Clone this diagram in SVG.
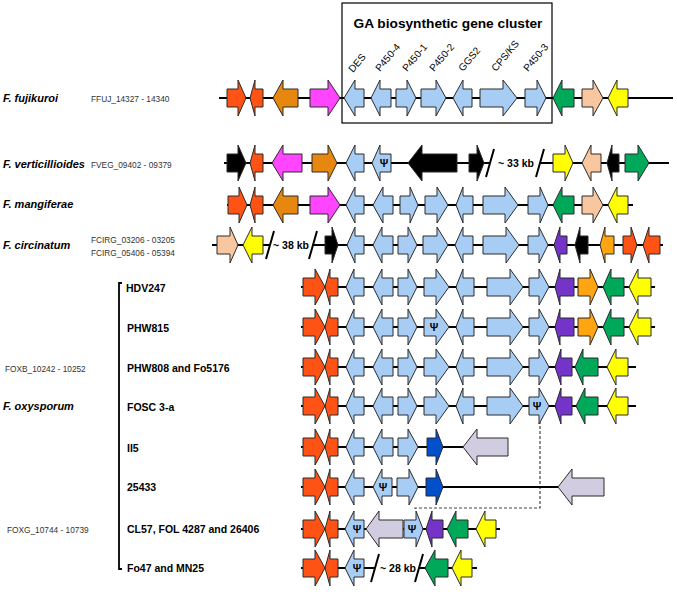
<svg xmlns="http://www.w3.org/2000/svg" width="677" height="592" viewBox="0 0 677 592">
<style>
polygon{stroke:#2a2a2a;stroke-width:1;stroke-linejoin:miter}
.bb{stroke:#000;stroke-width:2;fill:none}
.sl{stroke:#000;stroke-width:2;fill:none}
.or{fill:#FF5315}.og{fill:#E8870F}.ol{fill:#FFA511}.mg{fill:#FF45FF}.lb{fill:#A8CDF5}.gr{fill:#00A85A}.pe{fill:#F8C7A0}.ye{fill:#FFFF00}.pu{fill:#7434CA}.db{fill:#0050CC}.li{fill:#D1CCDF}.bk{fill:#000}
text{font-family:"Liberation Sans",Arial,sans-serif;fill:#000}
.sp{font-size:11px;font-weight:bold;font-style:italic}
.loc{font-size:8.3px;fill:#333}
.st{font-size:10.5px;font-weight:bold}
.kb{font-size:10.5px;font-weight:bold}
.gn{font-size:10px}
.psi{font-size:10.5px;font-weight:bold;text-anchor:middle}
</style>
<rect x="342" y="3" width="210" height="120" fill="none" stroke="#000" stroke-width="1.2"/>
<text x="448" y="28" text-anchor="middle" style="font-size:13.7px;font-weight:bold">GA biosynthetic gene cluster</text>
<g id="gene-labels">
<text class="gn" transform="translate(353,73) rotate(-50)">DES</text>
<text class="gn" transform="translate(380,72) rotate(-50)">P450-4</text>
<text class="gn" transform="translate(407,72) rotate(-50)">P450-1</text>
<text class="gn" transform="translate(434,72) rotate(-50)">P450-2</text>
<text class="gn" transform="translate(463,72) rotate(-50)">GGS2</text>
<text class="gn" transform="translate(496,72) rotate(-50)">CPS/KS</text>
<text class="gn" transform="translate(528,72) rotate(-50)">P450-3</text>
</g>
<g id="labels">
<text class="sp" x="3" y="102">F. fujikuroi</text>
<text class="loc" x="91" y="102">FFUJ_14327 - 14340</text>
<text class="sp" x="3" y="168">F. verticillioides</text>
<text class="loc" x="91" y="168">FVEG_09402 - 09379</text>
<text class="sp" x="3" y="208">F. mangiferae</text>
<text class="sp" x="3" y="249">F. circinatum</text>
<text class="loc" x="91" y="243">FCIRG_03206 - 03205</text>
<text class="loc" x="91" y="256">FCIRG_05406 - 05394</text>
<text class="sp" x="3" y="410">F. oxysporum</text>
<text class="loc" x="5" y="372">FOXB_10242 - 10252</text>
<text class="loc" x="7" y="533">FOXG_10744 - 10739</text>
<path d="M122,283 H119 V569 H122" fill="none" stroke="#000" stroke-width="1.8"/>
<text class="st" x="126" y="292">HDV247</text>
<text class="st" x="127" y="332">PHW815</text>
<text class="st" x="127" y="372">PHW808 and Fo5176</text>
<text class="st" x="127" y="411">FOSC 3-a</text>
<text class="st" x="127" y="452">II5</text>
<text class="st" x="127" y="491">25433</text>
<text class="st" x="127" y="533">CL57, FOL 4287 and 26406</text>
<text class="st" x="127" y="572">Fo47 and MN25</text>
</g>
<g id="connectors">
<path d="M540,416 V508 H415 V511" fill="none" stroke="#444" stroke-width="1.2" stroke-dasharray="3,2"/>
</g>
<g id="row-fujikuroi" transform="translate(0,98)">
<path class="bb" d="M219,0 H673"/>
<polygon class="or" points="227,-9 238,-9 238,-18 246,0 238,18 238,9 227,9"/>
<polygon class="or" points="250,0 255,-18 255,-9 263,-9 263,9 255,9 255,18"/>
<polygon class="og" points="273,0 283,-18 283,-9 298,-9 298,9 283,9 283,18"/>
<polygon class="mg" points="310,-9 328,-9 328,-18 340,0 328,18 328,9 310,9"/>
<polygon class="lb" points="344,0 355,-18 355,-9 364,-9 364,9 355,9 355,18"/>
<polygon class="lb" points="371,0 380,-18 380,-9 391,-9 391,9 380,9 380,18"/>
<polygon class="lb" points="396,-9 407,-9 407,-18 416,0 407,18 407,9 396,9"/>
<polygon class="lb" points="421,-9 436,-9 436,-18 446,0 436,18 436,9 421,9"/>
<polygon class="lb" points="453,0 463,-18 463,-9 472,-9 472,9 463,9 463,18"/>
<polygon class="lb" points="480,-9 503,-9 503,-18 517,0 503,18 503,9 480,9"/>
<polygon class="lb" points="525,-9 537,-9 537,-18 546,0 537,18 537,9 525,9"/>
<polygon class="gr" points="553,0 562,-18 562,-9 574,-9 574,9 562,9 562,18"/>
<polygon class="pe" points="582,-9 593,-9 593,-18 603,0 593,18 593,9 582,9"/>
<polygon class="ye" points="608,0 617,-18 617,-9 628,-9 628,9 617,9 617,18"/>
</g>
<g id="row-verticillioides" transform="translate(0,163)">
<path class="bb" d="M224,0 H490 M540,0 H669"/>
<polygon class="bk" points="227,-9 238,-9 238,-18 246,0 238,18 238,9 227,9"/>
<polygon class="or" points="250,0 255,-18 255,-9 263,-9 263,9 255,9 255,18"/>
<polygon class="mg" points="272,0 283,-18 283,-9 302,-9 302,9 283,9 283,18"/>
<polygon class="og" points="312,-9 328,-9 328,-18 337,0 328,18 328,9 312,9"/>
<polygon class="lb" points="346,0 355,-18 355,-9 364,-9 364,9 355,9 355,18"/>
<polygon class="lb" points="372,0 380,-18 380,-9 391,-9 391,9 380,9 380,18"/>
<text class="psi" x="384" y="4">Ψ</text>
<polygon class="bk" points="408,0 422,-18 422,-9 457,-9 457,9 422,9 422,18"/>
<polygon class="bk" points="469,-9 477,-9 477,-18 484,0 477,18 477,9 469,9"/>
<path class="sl" d="M486,14 L494,-14 M536,14 L544,-14"/>
<text class="kb" x="498" y="4">~ 33 kb</text>
<polygon class="ye" points="553,-9 565,-9 565,-18 573,0 565,18 565,9 553,9"/>
<polygon class="pe" points="582,0 591,-18 591,-9 601,-9 601,9 591,9 591,18"/>
<polygon class="bk" points="607,0 612,-18 612,-9 619,-9 619,9 612,9 612,18"/>
<polygon class="gr" points="625,-9 638,-9 638,-18 649,0 638,18 638,9 625,9"/>
</g>
<g id="row-mangiferae" transform="translate(0,205)">
<path class="bb" d="M227,0 H633"/>
<polygon class="or" points="228,-9 239,-9 239,-18 247,0 239,18 239,9 228,9"/>
<polygon class="or" points="250,0 255,-18 255,-9 263,-9 263,9 255,9 255,18"/>
<polygon class="og" points="273,0 283,-18 283,-9 298,-9 298,9 283,9 283,18"/>
<polygon class="mg" points="310,-9 328,-9 328,-18 340,0 328,18 328,9 310,9"/>
<polygon class="lb" points="346,0 355,-18 355,-9 364,-9 364,9 355,9 355,18"/>
<polygon class="lb" points="373,0 383,-18 383,-9 393,-9 393,9 383,9 383,18"/>
<polygon class="lb" points="400,-9 410,-9 410,-18 418,0 410,18 410,9 400,9"/>
<polygon class="lb" points="425,-9 437,-9 437,-18 448,0 437,18 437,9 425,9"/>
<polygon class="lb" points="456,0 463,-18 463,-9 473,-9 473,9 463,9 463,18"/>
<polygon class="lb" points="483,-9 505,-9 505,-18 518,0 505,18 505,9 483,9"/>
<polygon class="lb" points="528,-9 540,-9 540,-18 548,0 540,18 540,9 528,9"/>
<polygon class="gr" points="553,0 562,-18 562,-9 574,-9 574,9 562,9 562,18"/>
<polygon class="pe" points="582,-9 593,-9 593,-18 603,0 593,18 593,9 582,9"/>
<polygon class="ye" points="608,0 617,-18 617,-9 628,-9 628,9 617,9 617,18"/>
</g>
<g id="row-circinatum" transform="translate(0,245)">
<path class="bb" d="M212,0 H270 M313,0 H663"/>
<polygon class="pe" points="217,-9 230,-9 230,-18 238,0 230,18 230,9 217,9"/>
<polygon class="ye" points="243,0 252,-18 252,-9 263,-9 263,9 252,9 252,18"/>
<path class="sl" d="M266,14 L274,-14 M309,14 L317,-14"/>
<text class="kb" x="273" y="4">~ 38 kb</text>
<polygon class="bk" points="325,-9 332,-9 332,-18 338,0 332,18 332,9 325,9"/>
<polygon class="lb" points="347,0 355,-18 355,-9 364,-9 364,9 355,9 355,18"/>
<polygon class="lb" points="373,0 382,-18 382,-9 393,-9 393,9 382,9 382,18"/>
<polygon class="lb" points="398,-9 408,-9 408,-18 417,0 408,18 408,9 398,9"/>
<polygon class="lb" points="423,-9 437,-9 437,-18 448,0 437,18 437,9 423,9"/>
<polygon class="lb" points="455,0 463,-18 463,-9 473,-9 473,9 463,9 463,18"/>
<polygon class="lb" points="483,-9 506,-9 506,-18 519,0 506,18 506,9 483,9"/>
<polygon class="lb" points="528,-9 539,-9 539,-18 548,0 539,18 539,9 528,9"/>
<polygon class="pu" points="554,0 560,-18 560,-9 567,-9 567,9 560,9 560,18"/>
<polygon class="bk" points="575,0 580,-18 580,-9 588,-9 588,9 580,9 580,18"/>
<polygon class="ol" points="600,0 605,-18 605,-9 614,-9 614,9 605,9 605,18"/>
<polygon class="or" points="623,-9 631,-9 631,-18 637,0 631,18 631,9 623,9"/>
<polygon class="or" points="643,0 649,-18 649,-9 660,-9 660,9 649,9 649,18"/>
</g>
<g id="row-HDV247" transform="translate(0,287)">
<path class="bb" d="M301,0 H655"/>
<polygon class="or" points="303,-9 315,-9 315,-18 325,0 315,18 315,9 303,9"/>
<polygon class="or" points="325,0 330,-18 330,-9 338,-9 338,9 330,9 330,18"/>
<polygon class="lb" points="346,0 354,-18 354,-9 364,-9 364,9 354,9 354,18"/>
<polygon class="lb" points="373,0 382,-18 382,-9 393,-9 393,9 382,9 382,18"/>
<polygon class="lb" points="398,-9 408,-9 408,-18 417,0 408,18 408,9 398,9"/>
<polygon class="lb" points="424,-9 436,-9 436,-18 449,0 436,18 436,9 424,9"/>
<polygon class="lb" points="456,0 463,-18 463,-9 474,-9 474,9 463,9 463,18"/>
<polygon class="lb" points="487,-9 510,-9 510,-18 523,0 510,18 510,9 487,9"/>
<polygon class="lb" points="529,-9 539,-9 539,-18 549,0 539,18 539,9 529,9"/>
<polygon class="pu" points="555,0 560,-18 560,-9 574,-9 574,9 560,9 560,18"/>
<polygon class="ol" points="578,-9 590,-9 590,-18 598,0 590,18 590,9 578,9"/>
<polygon class="gr" points="603,0 611,-18 611,-9 624,-9 624,9 611,9 611,18"/>
<polygon class="ye" points="629,0 638,-18 638,-9 651,-9 651,9 638,9 638,18"/>
</g>
<g id="row-PHW815" transform="translate(0,327)">
<path class="bb" d="M301,0 H655"/>
<polygon class="or" points="303,-9 315,-9 315,-18 325,0 315,18 315,9 303,9"/>
<polygon class="or" points="325,0 330,-18 330,-9 338,-9 338,9 330,9 330,18"/>
<polygon class="lb" points="346,0 354,-18 354,-9 364,-9 364,9 354,9 354,18"/>
<polygon class="lb" points="373,0 382,-18 382,-9 393,-9 393,9 382,9 382,18"/>
<polygon class="lb" points="398,-9 408,-9 408,-18 417,0 408,18 408,9 398,9"/>
<polygon class="lb" points="424,-9 436,-9 436,-18 449,0 436,18 436,9 424,9"/>
<text class="psi" x="434" y="4">Ψ</text>
<polygon class="lb" points="456,0 463,-18 463,-9 474,-9 474,9 463,9 463,18"/>
<polygon class="lb" points="487,-9 510,-9 510,-18 523,0 510,18 510,9 487,9"/>
<polygon class="lb" points="529,-9 539,-9 539,-18 549,0 539,18 539,9 529,9"/>
<polygon class="pu" points="555,0 560,-18 560,-9 574,-9 574,9 560,9 560,18"/>
<polygon class="ol" points="578,-9 590,-9 590,-18 598,0 590,18 590,9 578,9"/>
<polygon class="gr" points="603,0 611,-18 611,-9 624,-9 624,9 611,9 611,18"/>
<polygon class="ye" points="629,0 638,-18 638,-9 651,-9 651,9 638,9 638,18"/>
</g>
<g id="row-PHW808" transform="translate(0,367)">
<path class="bb" d="M301,0 H636"/>
<polygon class="or" points="303,-9 315,-9 315,-18 325,0 315,18 315,9 303,9"/>
<polygon class="or" points="325,0 330,-18 330,-9 338,-9 338,9 330,9 330,18"/>
<polygon class="lb" points="346,0 354,-18 354,-9 364,-9 364,9 354,9 354,18"/>
<polygon class="lb" points="373,0 382,-18 382,-9 393,-9 393,9 382,9 382,18"/>
<polygon class="lb" points="398,-9 408,-9 408,-18 417,0 408,18 408,9 398,9"/>
<polygon class="lb" points="424,-9 436,-9 436,-18 449,0 436,18 436,9 424,9"/>
<polygon class="lb" points="456,0 463,-18 463,-9 474,-9 474,9 463,9 463,18"/>
<polygon class="lb" points="487,-9 510,-9 510,-18 523,0 510,18 510,9 487,9"/>
<polygon class="lb" points="529,-9 539,-9 539,-18 549,0 539,18 539,9 529,9"/>
<polygon class="pu" points="555,0 561,-18 561,-9 572,-9 572,9 561,9 561,18"/>
<polygon class="gr" points="575,0 583,-18 583,-9 598,-9 598,9 583,9 583,18"/>
<polygon class="ye" points="607,0 616,-18 616,-9 628,-9 628,9 616,9 616,18"/>
</g>
<g id="row-FOSC3a" transform="translate(0,406)">
<path class="bb" d="M301,0 H636"/>
<polygon class="or" points="303,-9 315,-9 315,-18 325,0 315,18 315,9 303,9"/>
<polygon class="or" points="325,0 330,-18 330,-9 338,-9 338,9 330,9 330,18"/>
<polygon class="lb" points="346,0 354,-18 354,-9 364,-9 364,9 354,9 354,18"/>
<polygon class="lb" points="373,0 382,-18 382,-9 393,-9 393,9 382,9 382,18"/>
<polygon class="lb" points="398,-9 408,-9 408,-18 417,0 408,18 408,9 398,9"/>
<polygon class="lb" points="424,-9 436,-9 436,-18 449,0 436,18 436,9 424,9"/>
<polygon class="lb" points="456,0 463,-18 463,-9 474,-9 474,9 463,9 463,18"/>
<polygon class="lb" points="487,-9 510,-9 510,-18 523,0 510,18 510,9 487,9"/>
<polygon class="lb" points="529,-9 539,-9 539,-18 549,0 539,18 539,9 529,9"/>
<text class="psi" x="537" y="4">Ψ</text>
<polygon class="pu" points="555,0 561,-18 561,-9 572,-9 572,9 561,9 561,18"/>
<polygon class="gr" points="576,0 585,-18 585,-9 598,-9 598,9 585,9 585,18"/>
<polygon class="ye" points="607,0 616,-18 616,-9 628,-9 628,9 616,9 616,18"/>
</g>
<g id="row-II5" transform="translate(0,447)">
<path class="bb" d="M301,0 H463"/>
<polygon class="or" points="303,-9 315,-9 315,-18 325,0 315,18 315,9 303,9"/>
<polygon class="or" points="325,0 330,-18 330,-9 338,-9 338,9 330,9 330,18"/>
<polygon class="lb" points="346,0 354,-18 354,-9 364,-9 364,9 354,9 354,18"/>
<polygon class="lb" points="373,0 382,-18 382,-9 393,-9 393,9 382,9 382,18"/>
<polygon class="lb" points="398,-9 408,-9 408,-18 418,0 408,18 408,9 398,9"/>
<polygon class="db" points="427,-9 436,-9 436,-18 443,0 436,18 436,9 427,9"/>
<polygon class="li" points="463,0 477,-18 477,-9 508,-9 508,9 477,9 477,18"/>
</g>
<g id="row-25433" transform="translate(0,487)">
<path class="bb" d="M301,0 H558"/>
<polygon class="or" points="303,-9 315,-9 315,-18 325,0 315,18 315,9 303,9"/>
<polygon class="or" points="325,0 330,-18 330,-9 338,-9 338,9 330,9 330,18"/>
<polygon class="lb" points="345,0 354,-18 354,-9 364,-9 364,9 354,9 354,18"/>
<polygon class="lb" points="373,0 382,-18 382,-9 392,-9 392,9 382,9 382,18"/>
<text class="psi" x="383" y="4">Ψ</text>
<polygon class="lb" points="397,-9 409,-9 409,-18 418,0 409,18 409,9 397,9"/>
<polygon class="db" points="426,-9 436,-9 436,-18 443,0 436,18 436,9 426,9"/>
<polygon class="li" points="558,0 572,-18 572,-9 604,-9 604,9 572,9 572,18"/>
</g>
<g id="row-CL57" transform="translate(0,529)">
<path class="bb" d="M301,0 H500"/>
<polygon class="or" points="303,-9 315,-9 315,-18 325,0 315,18 315,9 303,9"/>
<polygon class="or" points="325,0 330,-18 330,-9 338,-9 338,9 330,9 330,18"/>
<polygon class="lb" points="345,0 354,-18 354,-9 364,-9 364,9 354,9 354,18"/>
<text class="psi" x="357" y="4">Ψ</text>
<polygon class="li" points="366,0 379,-18 379,-9 403,-9 403,9 379,9 379,18"/>
<polygon class="lb" points="404,-9 416,-9 416,-18 423,0 416,18 416,9 404,9"/>
<text class="psi" x="412" y="4">Ψ</text>
<polygon class="pu" points="426,0 432,-18 432,-9 443,-9 443,9 432,9 432,18"/>
<polygon class="gr" points="447,0 456,-18 456,-9 468,-9 468,9 456,9 456,18"/>
<polygon class="ye" points="476,0 485,-18 485,-9 496,-9 496,9 485,9 485,18"/>
</g>
<g id="row-Fo47" transform="translate(0,568)">
<path class="bb" d="M301,0 H375 M419,0 H477"/>
<polygon class="or" points="303,-9 315,-9 315,-18 325,0 315,18 315,9 303,9"/>
<polygon class="or" points="325,0 330,-18 330,-9 338,-9 338,9 330,9 330,18"/>
<polygon class="lb" points="345,0 354,-18 354,-9 364,-9 364,9 354,9 354,18"/>
<text class="psi" x="357" y="4">Ψ</text>
<path class="sl" d="M371,14 L379,-14 M415,14 L423,-14"/>
<text class="kb" x="380" y="4">~ 28 kb</text>
<polygon class="gr" points="425,0 435,-18 435,-9 448,-9 448,9 435,9 435,18"/>
<polygon class="ye" points="452,0 461,-18 461,-9 472,-9 472,9 461,9 461,18"/>
</g>
</svg>
